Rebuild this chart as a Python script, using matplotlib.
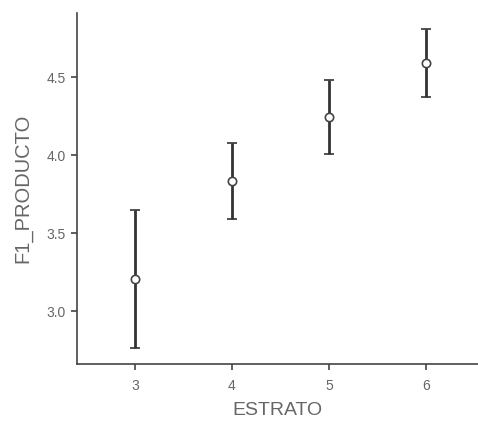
import numpy as np
import matplotlib
matplotlib.use("Agg")
import matplotlib.pyplot as plt

# Medias e intervalos por estrato
estrato = [3, 4, 5, 6]
media = [3.205, 3.833, 4.244, 4.592]
ic_inf = [2.763, 3.590, 4.004, 4.374]
ic_sup = [3.647, 4.077, 4.479, 4.810]

plt.rcParams['font.family'] = ['Liberation Sans', 'DejaVu Sans']

fig = plt.figure(figsize=(4.78, 4.22), dpi=100)
ax = fig.add_axes([0.161, 0.137, 0.839, 0.832])

media = np.array(media)
err = [media - np.array(ic_inf), np.array(ic_sup) - media]
ax.errorbar(estrato, media, yerr=err, fmt='o', color='#333333', ecolor='#333333',
            elinewidth=2, capsize=3.3, capthick=2, markersize=6,
            markerfacecolor='white', markeredgecolor='#444444', markeredgewidth=1.2)

ax.set_xlim(2.40, 6.54)
ax.set_ylim(2.66, 4.91)
ax.set_xticks(estrato)
ax.set_yticks([3.0, 3.5, 4.0, 4.5])
ax.set_yticklabels(['3.0', '3.5', '4.0', '4.5'])

for s in ['top', 'right']:
    ax.spines[s].set_visible(False)
for s in ['left', 'bottom']:
    ax.spines[s].set_color('#444444')
    ax.spines[s].set_linewidth(1.2)
ax.tick_params(colors='#444444', labelcolor='#666666', labelsize=10, length=4, width=1.2, pad=4)
ax.tick_params(axis='x', pad=7)

ax.set_xlabel('ESTRATO', fontsize=14, color='#666666', labelpad=6)
ax.set_ylabel('F1_PRODUCTO', fontsize=14.5, color='#666666', labelpad=10)

fig.savefig('out.png', dpi=100)
